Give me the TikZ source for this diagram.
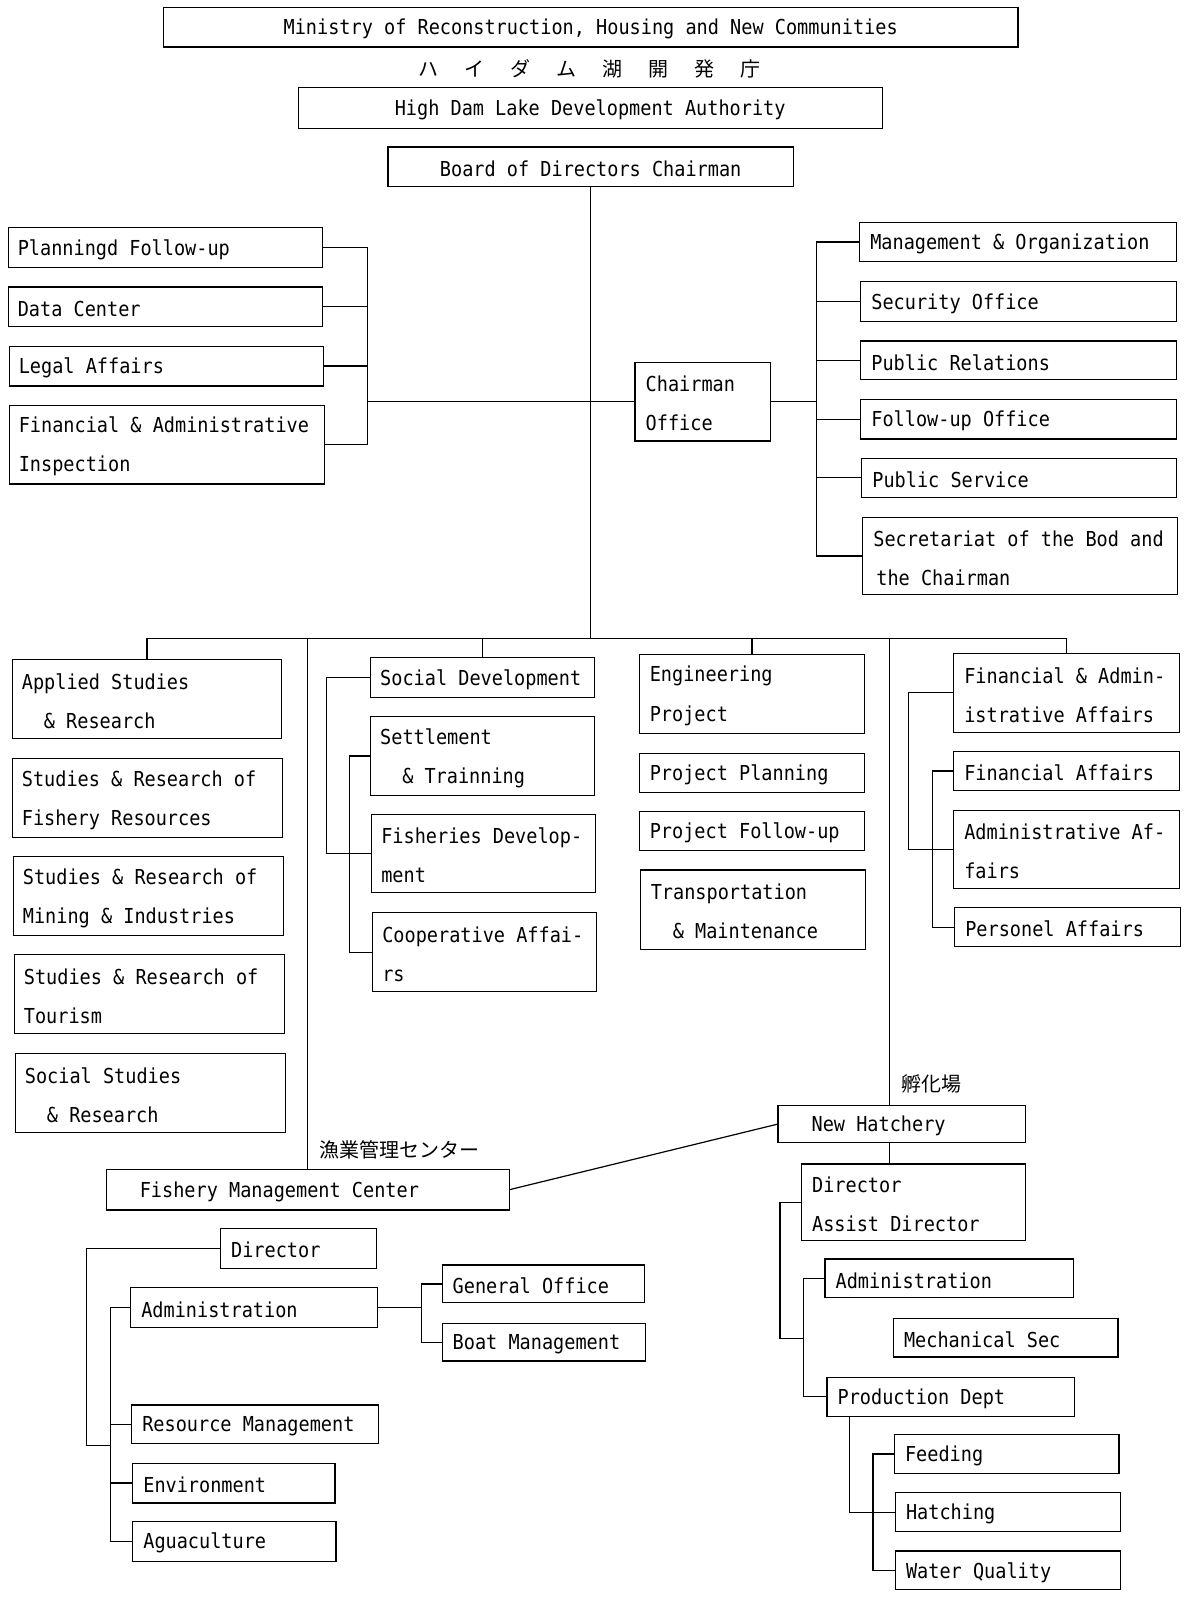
\documentclass[tikz,border=0pt]{standalone}
\usepackage{fontspec}
\setmainfont{DejaVu Sans Mono}[FakeStretch=0.9]
\newfontfamily\jpf{Noto Sans CJK JP}
\usetikzlibrary{calc}
\tikzset{
  box/.style={draw, line width=1.2pt, inner sep=0pt, fill=white},
  lbl/.style={inner sep=0pt, font=\fontsize{20.6}{39}\selectfont, align=left},
  ctl/.style={inner sep=0pt, font=\fontsize{20.6}{39}\selectfont, align=center},
  jplbl/.style={inner sep=0pt, font=\jpf\fontsize{20}{20}\selectfont},
  ln/.style={line width=1.2pt},
}
% #1 pad, #2 name, #3 x1, #4 y1, #5 x2, #6 y2, #7 text
\newcommand\orgbox[7][11]{%
  \pgfmathsetmacro\bw{(#5-#3)*1.0207}%
  \pgfmathsetmacro\bh{(#6-#4)*1.0207}%
  \node[box, minimum width=\bw pt, minimum height=\bh pt] (#2) at ({(#3+#5)/2},{(#4+#6)/2}) {};
  \node[lbl, anchor=west] (#2t) at ([xshift=#1pt, yshift=-2pt]#2.west) {#7};
}
\newcommand\ctrbox[6]{%
  \pgfmathsetmacro\bw{(#4-#2)*1.0207}%
  \pgfmathsetmacro\bh{(#5-#3)*1.0207}%
  \node[box, minimum width=\bw pt, minimum height=\bh pt] (#1) at ({(#2+#4)/2},{(#3+#5)/2}) {};
  \node[ctl] (#1t) at ([yshift=-2pt]#1.center) {#6};
}
\newcommand\ind{\hspace*{22pt}}
\begin{document}
\begin{tikzpicture}[x=1.0207pt, y=-1.0207pt]
\fill[white] (0,0) rectangle (1160,1568);
\useasboundingbox (0,0) rectangle (1160,1568);

% ---- top
\ctrbox{min}{160}{7}{997}{46}{Ministry of Reconstruction, Housing and New Communities}
\node[jplbl] (jp1) at (577,67) {ハ\hspace{26pt}イ\hspace{26pt}ダ\hspace{26pt}ム\hspace{26pt}湖\hspace{26pt}開\hspace{26pt}発\hspace{26pt}庁};
\ctrbox{hdla}{292}{86}{864}{126}{High Dam Lake Development Authority}
\ctrbox{board}{380}{144}{777}{183}{Board of Directors Chairman}

% ---- left staff
\orgbox[10]{pf}{8}{223}{316}{262}{Planningd Follow-up}
\orgbox[10]{dc}{8}{281}{316}{320}{Data Center}
\orgbox[10]{la}{9}{339}{317}{378}{Legal Affairs}
\orgbox[10]{fi}{9}{397}{318}{474}{Financial \& Administrative\\Inspection}

% ---- chairman office and right staff
\orgbox{co}{622}{355}{755}{432}{Chairman\\Office}
\orgbox{mo}{842}{218}{1152}{256}{Management \& Organization}
\orgbox{so}{843}{276}{1152}{315}{Security Office}
\orgbox{pr}{843}{334}{1152}{372}{Public Relations}
\orgbox{fu}{843}{391}{1152}{430}{Follow-up Office}
\orgbox{ps}{844}{449}{1152}{487}{Public Service}
\orgbox{sb}{845}{507}{1153}{582}{Secretariat of the Bod and\\\hspace*{3pt}the Chairman}

% ---- column 1
\orgbox[10]{c1a}{12}{646}{276}{723}{Applied Studies\\\ind\& Research}
\orgbox[10]{c1b}{12}{743}{277}{820}{Studies \& Research of\\Fishery Resources}
\orgbox[10]{c1c}{13}{839}{278}{916}{Studies \& Research of\\Mining \& Industries}
\orgbox[10]{c1d}{14}{935}{279}{1012}{Studies \& Research of\\Tourism}
\orgbox[10]{c1e}{15}{1032}{280}{1109}{Social Studies\\\ind\& Research}

% ---- column 2
\orgbox[10]{c2a}{363}{644}{582}{683}{Social Development}
\orgbox[10]{c2b}{363}{702}{582}{779}{Settlement\\\ind\& Trainning}
\orgbox[10]{c2c}{364}{798}{583}{874}{Fisheries Develop-\\ment}
\orgbox[10]{c2d}{365}{894}{584}{971}{Cooperative Affai-\\rs}

% ---- column 3
\orgbox{c3a}{626}{641}{847}{718}{Engineering\\Project}
\orgbox{c3b}{626}{738}{847}{776}{Project Planning}
\orgbox{c3c}{626}{795}{847}{833}{Project Follow-up}
\orgbox{c3d}{627}{852}{848}{930}{Transportation\\\ind\& Maintenance}

% ---- column 4
\orgbox{c4a}{934}{640}{1155}{717}{Financial \& Admin-\\istrative Affairs}
\orgbox{c4b}{934}{736}{1155}{774}{Financial Affairs}
\orgbox{c4c}{934}{794}{1155}{870}{Administrative Af-\\fairs}
\orgbox{c4d}{935}{889}{1156}{927}{Personel Affairs}

% ---- fishery management center
\node[jplbl, anchor=west] (jp2) at (313,1126) {漁業管理センター};
\orgbox[34]{fmc}{104}{1145}{499}{1185}{Fishery Management Center}
\orgbox{d1}{216}{1203}{369}{1242}{Director}
\orgbox{a1}{128}{1261}{370}{1300}{Administration}
\orgbox{go}{433}{1239}{631}{1276}{General Office}
\orgbox{bm}{433}{1296}{632}{1333}{Boat Management}
\orgbox{rm}{129}{1376}{371}{1414}{Resource Management}
\orgbox{env}{130}{1433}{328}{1472}{Environment}
\orgbox{aq}{130}{1490}{329}{1529}{Aguaculture}

% ---- new hatchery
\node[jplbl, anchor=west] (jp3) at (883,1062) {孵化場};
\orgbox[34]{nh}{762}{1083}{1004}{1119}{New Hatchery}
\orgbox{d2}{785}{1140}{1004}{1215}{Director\\Assist Director}
\orgbox{a2}{808}{1233}{1051}{1271}{Administration}
\orgbox{ms}{875}{1291}{1095}{1329}{Mechanical Sec}
\orgbox{pd}{810}{1349}{1052}{1387}{Production Dept}
\orgbox{fe}{876}{1405}{1096}{1443}{Feeding}
\orgbox{ha}{877}{1462}{1097}{1500}{Hatching}
\orgbox{wq}{877}{1519}{1097}{1557}{Water Quality}

% ---- helper coordinates
\coordinate (bus) at (0,625);
\coordinate (lbx) at (360,0);
\coordinate (rbx) at (800,0);
\coordinate (c2ax) at (320,0);
\coordinate (c2bx) at (342,0);
\coordinate (c4ax) at (890,0);
\coordinate (c4bx) at (913,0);
\coordinate (nhx) at (871,0);
\coordinate (obx) at (85,0);
\coordinate (ibx) at (108,0);
\coordinate (fj) at (108,1416);
\coordinate (gbx) at (413,0);
\coordinate (rox) at (764,0);
\coordinate (rix) at (787,0);
\coordinate (hj) at (787,1311);
\coordinate (pdx) at (832,0);
\coordinate (pix) at (855,0);

% ---- connectors
\draw[ln] (board.south) -- (board.south |- bus);
\draw[ln] (c1a.north |- bus) -- (c4a.north |- bus);
\draw[ln] (c1a.north |- bus) -- (c1a.north);
\draw[ln] (c2a.north |- bus) -- (c2a.north);
\draw[ln] (c3a.north |- bus) -- (c3a.north);
\draw[ln] (c4a.north |- bus) -- (c4a.north);
\draw[ln] (fmc.north |- bus) -- (fmc.north);
\draw[ln] (nhx |- bus) -- (nhx |- nh.north);
\draw[ln] (nhx |- nh.south) -- (nhx |- d2.north);
\draw[ln] (fmc.east) -- (nh.west);

\draw[ln] (pf.east) -- (pf.east -| lbx) -- (fi.east -| lbx) -- (fi.east);
\draw[ln] (dc.east) -- (dc.east -| lbx);
\draw[ln] (la.east) -- (la.east -| lbx);
\draw[ln] (lbx |- co.west) -- (co.west);

\draw[ln] (co.east) -- (co.east -| rbx);
\draw[ln] (mo.west) -- (mo.west -| rbx) -- (sb.west -| rbx) -- (sb.west);
\foreach \n in {so,pr,fu,ps} \draw[ln] (\n.west -| rbx) -- (\n.west);

\draw[ln] (c2a.west) -- (c2a.west -| c2ax) -- (c2c.west -| c2ax) -- (c2c.west);
\draw[ln] (c2b.west) -- (c2b.west -| c2bx) -- (c2d.west -| c2bx) -- (c2d.west);
\draw[ln] (c4a.west) -- (c4a.west -| c4ax) -- (c4c.west -| c4ax) -- (c4c.west);
\draw[ln] (c4b.west) -- (c4b.west -| c4bx) -- (c4d.west -| c4bx) -- (c4d.west);

\draw[ln] (d1.west) -- (d1.west -| obx) -- (obx |- fj) -- (fj);
\draw[ln] (a1.west) -- (a1.west -| ibx) -- (aq.west -| ibx) -- (aq.west);
\draw[ln] (rm.west -| ibx) -- (rm.west);
\draw[ln] (env.west -| ibx) -- (env.west);
\draw[ln] (a1.east) -- (a1.east -| gbx);
\draw[ln] (go.west) -- (go.west -| gbx) -- (bm.west -| gbx) -- (bm.west);

\draw[ln] (d2.west) -- (d2.west -| rox) -- (rox |- hj) -- (hj);
\draw[ln] (a2.west) -- (a2.west -| rix) -- (pd.west -| rix) -- (pd.west);
\draw[ln] (pdx |- pd.south) -- (pdx |- ha.west) -- (ha.west);
\draw[ln] (fe.west) -- (fe.west -| pix) -- (wq.west -| pix) -- (wq.west);
\end{tikzpicture}
\end{document}
